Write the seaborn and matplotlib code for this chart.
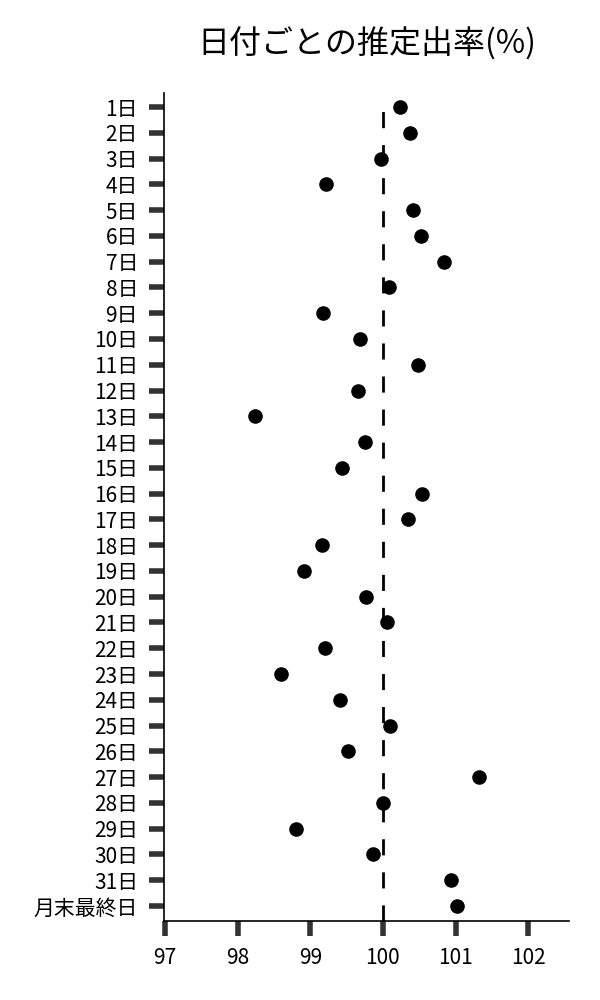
import matplotlib
matplotlib.use('Agg')
import matplotlib.pyplot as plt
import seaborn as sns
import pandas as pd

# 日付ラベルと推定出率
days = [f'{i}日' for i in range(1, 32)] + ['月末最終日']
rates = [100.24, 100.37, 99.98, 99.21, 100.41, 100.53, 100.84, 100.08,
         99.18, 99.68, 100.48, 99.66, 98.24, 99.75, 99.44, 100.54,
         100.35, 99.16, 98.91, 99.77, 100.05, 99.20, 98.60, 99.41,
         100.10, 99.52, 101.32, 100.00, 98.80, 99.87, 100.94, 101.02]
xticks = [97, 98, 99, 100, 101, 102]

df = pd.DataFrame({'day': days, 'rate': rates})

sns.set_style('ticks')
plt.rcParams['font.family'] = ['Noto Sans CJK JP', 'DejaVu Sans']
plt.rcParams['text.color'] = 'black'

fig = plt.figure(figsize=(6, 10), dpi=100)
ax = fig.add_axes([0.274, 0.0793, 0.674, 0.828])

sns.stripplot(data=df, x='rate', y='day', order=days, orient='h',
              jitter=False, color='black', size=10.5, linewidth=0, ax=ax)

ax.axvline(100, ymin=0, ymax=0.985, color='black', lw=2, dashes=(5.8, 6.1))

ax.set_xlim(96.99, 102.56)
ax.set_ylim(31.57, -0.555)
ax.set_xticks(xticks)
ax.set_xticklabels([str(t) for t in xticks])
ax.set_xlabel('')
ax.set_ylabel('')
ax.set_title('日付ごとの推定出率(%)', fontsize=23, pad=28, color='black')

ax.tick_params(axis='both', length=11, width=4, color='#333333',
               labelsize=15, pad=8, labelcolor='black')
sns.despine(ax=ax)
for s in ['left', 'bottom']:
    ax.spines[s].set_color('black')
    ax.spines[s].set_linewidth(1.2)

fig.savefig('out.png', dpi=100)
